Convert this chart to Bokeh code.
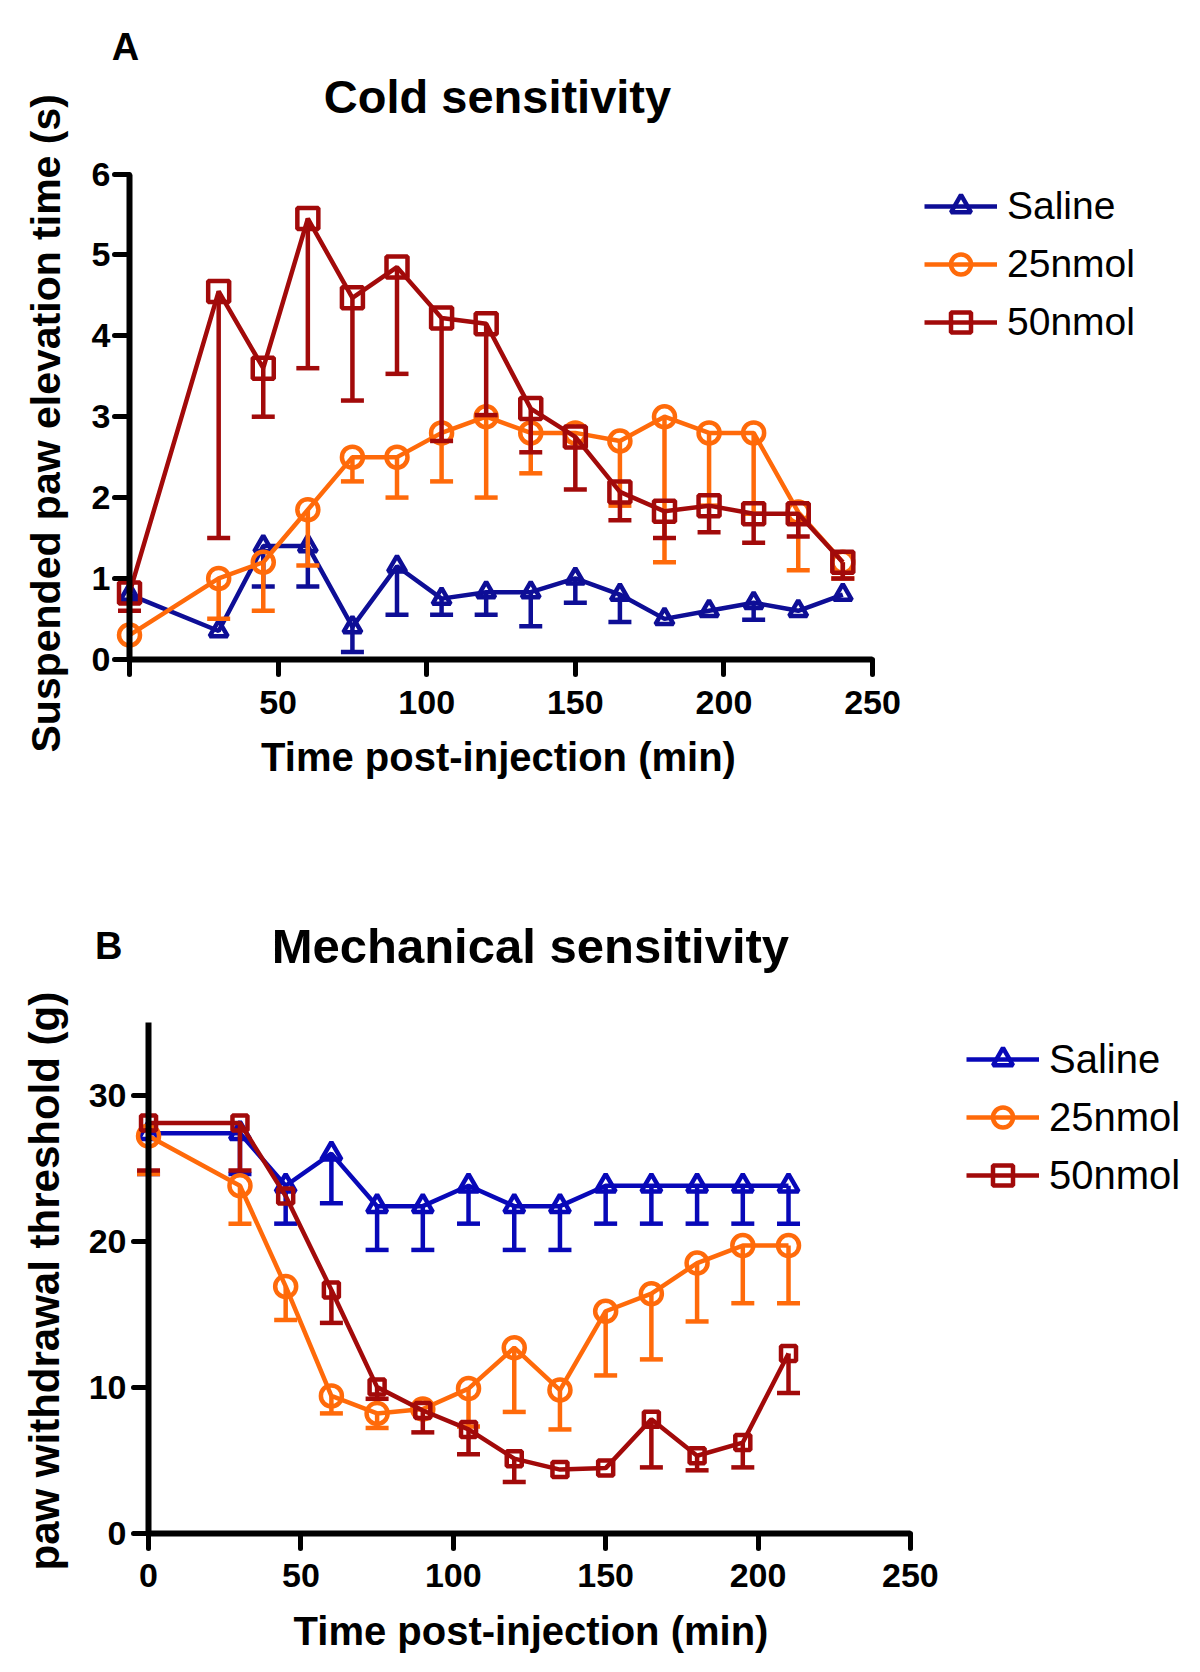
from bokeh.plotting import figure
from bokeh.models import Range1d, FixedTicker, Legend, LegendItem, Label, LinearAxis, Title
from bokeh.layouts import column
from bokeh.embed import file_html
from bokeh.resources import INLINE

# ---------------- data: panel A (cold sensitivity) ----------------
time_a = [0, 30, 45, 60, 75, 90, 105, 120, 135, 150, 165, 180, 195, 210, 225, 240]
saline_a = [0.8, 0.35, 1.4, 1.4, 0.4, 1.15, 0.75, 0.83, 0.83, 1.0, 0.8, 0.5, 0.6, 0.7, 0.6, 0.8]
saline_a_low = [0.8, 0.35, 0.9, 0.9, 0.09, 0.55, 0.55, 0.55, 0.41, 0.7, 0.46, 0.5, 0.6, 0.49, 0.6, 0.8]
nmol25_a = [0.3, 1.0, 1.2, 1.85, 2.5, 2.5, 2.8, 3.0, 2.8, 2.8, 2.7, 3.0, 2.8, 2.8, 1.82, 1.2]
nmol25_a_low = [0.3, 0.5, 0.6, 1.16, 2.2, 2.0, 2.2, 2.0, 2.3, 2.8, 1.9, 1.2, 1.9, 1.8, 1.1, 1.0]
nmol50_a = [0.82, 4.55, 3.6, 5.45, 4.47, 4.85, 4.22, 4.15, 3.1, 2.75, 2.07, 1.83, 1.9, 1.8, 1.8, 1.2]
nmol50_a_low = [0.6, 1.5, 3.0, 3.6, 3.2, 3.53, 2.7, 3.02, 2.56, 2.1, 1.72, 1.5, 1.57, 1.44, 1.52, 1.0]

# ---------------- data: panel B (mechanical sensitivity) ----------------
time_b = [0, 30, 45, 60, 75, 90, 105, 120, 135, 150, 165, 180, 195, 210]
saline_b = [27.4, 27.4, 23.8, 26.0, 22.4, 22.4, 23.8, 22.4, 22.4, 23.8, 23.8, 23.8, 23.8, 23.8]
saline_b_low = [24.6, 24.6, 21.2, 22.6, 19.4, 19.4, 21.2, 19.4, 19.4, 21.2, 21.2, 21.2, 21.2, 21.2]
nmol25_b = [27.2, 23.8, 16.9, 9.4, 8.2, 8.5, 9.9, 12.7, 9.8, 15.2, 16.4, 18.5, 19.7, 19.7]
nmol25_b_low = [24.6, 21.2, 14.6, 8.2, 7.2, 8.5, 7.3, 8.3, 7.1, 10.8, 11.9, 14.5, 15.75, 15.75]
nmol50_b = [28.1, 28.1, 23.1, 16.65, 10.0, 8.4, 7.1, 5.1, 4.35, 4.45, 7.8, 5.3, 6.2, 12.3]
nmol50_b_low = [24.85, 24.85, 23.1, 14.4, 9.2, 6.9, 5.4, 3.5, 4.35, 4.45, 4.5, 4.3, 4.5, 9.6]

labels = ["Saline", "25nmol", "50nmol"]
x_ticks = [0, 50, 100, 150, 200, 250]
y_ticks_a = [0, 1, 2, 3, 4, 5, 6]
y_ticks_b = [0, 10, 20, 30]

ORANGE = "#FF6A0A"
RED = "#A20A0A"
FONT = "Liberation Sans"
LW = 4.5


def make_panel(t, series, blue, xr, yr, ybounds, yticks, fw, fh, borders, sizes,
               title, title_xy, title_size, letter, letter_xy,
               ylab, ylab_size, ylab_offset, ylab_standoff, ytick_standoff,
               xlab_standoff, xtick_standoff, legend_loc, legend_size, x_zero_label=True):
    bl, bt, br, bb = borders
    p = figure(frame_width=fw, frame_height=fh,
               x_range=Range1d(*xr), y_range=Range1d(*yr),
               min_border_left=bl, min_border_top=bt, min_border_right=br, min_border_bottom=bb,
               output_backend="svg", toolbar_location=None, title=None)
    p.grid.visible = False
    p.outline_line_color = None
    p.background_fill_color = "white"
    p.border_fill_color = "white"

    # labelling axes at the frame edges: tick labels (and x title) only
    xa = p.xaxis[0]
    ya = p.yaxis[0]
    for ax in (xa, ya):
        ax.axis_line_color = None
        ax.major_tick_line_color = None
        ax.minor_tick_line_color = None
        ax.major_tick_out = 0
        ax.major_tick_in = 0
        ax.minor_tick_out = 0
        ax.major_label_text_font = FONT
        ax.major_label_text_font_size = "34px"
        ax.major_label_text_font_style = "bold"
        ax.major_label_text_color = "black"
        ax.axis_label_text_font = FONT
        ax.axis_label_text_font_size = "40px"
        ax.axis_label_text_font_style = "bold"
        ax.axis_label_text_color = "black"
    xa.ticker = FixedTicker(ticks=x_ticks)
    if not x_zero_label:
        xa.major_label_overrides = {0: ""}
    xa.major_label_standoff = xtick_standoff
    xa.axis_label_standoff = xlab_standoff
    xa.axis_label = "Time post-injection (min)"
    ya.ticker = FixedTicker(ticks=yticks)
    ya.major_label_standoff = ytick_standoff

    # y axis title, rotated, in the left panel
    p.add_layout(Title(text=ylab, align="left", vertical_align="bottom", offset=ylab_offset,
                       standoff=ylab_standoff, text_font=FONT, text_font_size=ylab_size,
                       text_font_style="bold", text_color="black"), "left")

    colors = [blue, ORANGE, RED]
    markers = ["triangle", "circle", "square"]
    items = []
    for (y, low), c, m, s, lab in zip(series, colors, markers, sizes, labels):
        keep = [i for i in range(len(t)) if low[i] < y[i]]
        ex = [t[i] for i in keep]
        ey = [y[i] for i in keep]
        el = [low[i] for i in keep]
        p.segment(ex, ey, ex, el, line_color=c, line_width=LW)
        p.scatter(ex, el, marker="dash", size=23, line_color=c, line_width=LW)
        lr = p.line(t, y, line_color=c, line_width=LW)
        sr = p.scatter(t, y, marker=m, size=s, line_color=c, line_width=LW, fill_color=None)
        items.append(LegendItem(label=lab, renderers=[lr, sr]))

    leg = Legend(items=items, location=legend_loc, glyph_width=73, glyph_height=50,
                 label_standoff=10, spacing=8, padding=0, margin=0,
                 border_line_alpha=0, background_fill_alpha=0,
                 label_text_font=FONT, label_text_font_size=legend_size,
                 label_text_color="black")
    p.add_layout(leg, "right")

    # drawn axes (lines + ticks) fixed at zero
    def fixed_axis(ticks, bounds):
        return LinearAxis(fixed_location=0, bounds=bounds, ticker=FixedTicker(ticks=ticks),
                          axis_line_width=6, axis_line_color="black",
                          major_tick_in=15, major_tick_out=0, major_tick_line_width=5,
                          major_tick_line_color="black", major_tick_line_cap="round",
                          minor_tick_line_color=None, minor_tick_out=0,
                          major_label_overrides={k: "" for k in ticks},
                          major_label_text_font_size="1px", major_label_standoff=0)
    p.add_layout(fixed_axis(x_ticks, (0, 250)), "above")
    p.add_layout(fixed_axis(yticks, ybounds), "right")

    p.add_layout(Label(x=title_xy[0], y=title_xy[1], text=title, text_font=FONT,
                       text_font_size=title_size, text_font_style="bold", text_color="black",
                       text_align="center", text_baseline="middle"))
    p.add_layout(Label(x=letter_xy[0], y=letter_xy[1], text=letter, text_font=FONT,
                       text_font_size="38px", text_font_style="bold", text_color="black",
                       text_align="center", text_baseline="middle"))
    return p


pa = make_panel(
    time_a,
    [(saline_a, saline_a_low), (nmol25_a, nmol25_a_low), (nmol50_a, nmol50_a_low)],
    "#0E0E96", (-13.8, 262.1), (-0.25, 7.9), (0, 6), y_ticks_a,
    820, 659, (88, 20, 240, 161), [18, 21, 21],
    "Cold sensitivity", (123.8, 6.965), "47px", "A", (-1.35, 7.57),
    "Suspended paw elevation time (s)", "41px", -73, 40, -22,
    18, 11, (16, 332), "39px", x_zero_label=False)

pb = make_panel(
    time_b,
    [(saline_b, saline_b_low), (nmol25_b, nmol25_b_low), (nmol50_b, nmol50_b_low)],
    "#0808B8", (-19.7, 270.7), (-1.4, 43.0), (0, 35), y_ticks_b,
    885, 648, (88, 65, 215, 117), [20, 21, 15],
    "Mechanical sensitivity", (125.3, 40.2), "49px", "B", (-13.1, 40.2),
    "paw withdrawal threshold (g)", "42px", -17, 35, -38,
    19, 10, (-7, 353), "40px")

layout = column(pa, pb, spacing=0)
open("out.html", "w").write(file_html(layout, INLINE))
